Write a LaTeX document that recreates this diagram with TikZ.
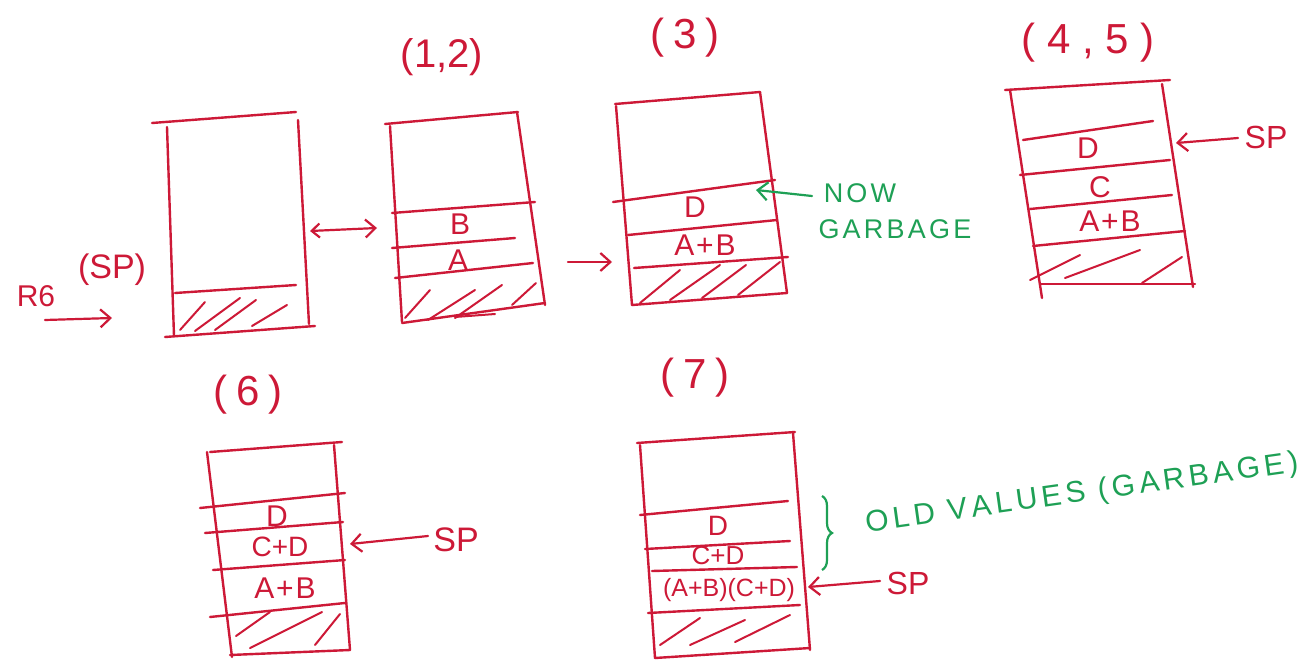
\documentclass[tikz,border=0pt]{standalone}
\usepackage{fontspec}
\setmainfont{Liberation Sans}
\usetikzlibrary{arrows.meta,decorations.pathreplacing}
\definecolor{pen}{RGB}{205,25,55}
\definecolor{gpen}{RGB}{30,160,85}
\tikzset{
  ink/.style={draw=pen,line width=2.4pt,line cap=round,line join=round},
  hatchln/.style={draw=pen,line width=2pt,line cap=round},
  cell/.style={text=pen,font=\fontsize{30}{32}\selectfont\addfontfeature{LetterSpace=6},inner sep=0pt},
  title/.style={text=pen,font=\fontsize{42}{46}\selectfont\addfontfeature{LetterSpace=20},inner sep=0pt},
  gtext/.style={text=gpen,font=\fontsize{27}{30}\selectfont\addfontfeature{LetterSpace=12},inner sep=0pt},
  arr/.style={draw=pen,line width=2.2pt,line cap=round,-{Straight Barb[length=10pt,width=18pt,line width=2.2pt]}},
  garr/.style={draw=gpen,line width=2.2pt,line cap=round,-{Straight Barb[length=10pt,width=18pt,line width=2.2pt]}}
}
\begin{document}
\begin{tikzpicture}[x=1pt,y=-1pt]
\useasboundingbox (0,0) rectangle (1306,661);
\fill[white] (0,0) rectangle (1306,661);

% ---------- stack 0 ----------
\draw[ink] (152,123) -- (296,112);
\draw[ink] (167,127) -- (174,336);
\draw[ink] (298,120) -- (309,324);
\draw[ink] (165,337) -- (315,326);
\draw[ink] (175,293) -- (296,285);
\draw[hatchln] (180,330) -- (205,302) (195,331) -- (240,298) (215,330) -- (256,300) (252,326) -- (287,305);
\node[cell,font=\fontsize{30}{32}\selectfont] (r6) at (36,296) {R6};
\node[cell,font=\fontsize{34}{36}\selectfont] (r6sp) at (112,270) {(SP)};
\coordinate (r6a) at (45,320);
\coordinate (r6b) at (112,318);
\draw[arr] (r6a) -- (r6b);
\coordinate (s0out) at (310,231);
\coordinate (s1in) at (377,228);
\draw[arr,{Straight Barb[length=8pt,width=14pt,line width=2.2pt]}-{Straight Barb[length=10pt,width=18pt,line width=2.2pt]}] (s0out) -- (s1in);

% ---------- stack 1 (1,2) ----------
\node[title,font=\fontsize{40}{44}\selectfont] (t12) at (442,57) {(1,2)};
\draw[ink] (385,124) -- (518,112);
\draw[ink] (390,126) -- (402,322);
\draw[ink] (517,112) -- (545,305);
\draw[ink] (402,323) -- (545,303);
\draw[ink] (392,213) -- (535,202);
\draw[ink] (392,248) -- (515,238);
\draw[ink] (395,278) -- (533,263);
\draw[hatchln] (405,318) -- (430,290) (428,320) -- (475,290) (455,318) -- (502,285) (512,305) -- (536,283) (455,317) -- (495,314);
\node[cell] (B1) at (460,224) {B};
\node[cell] (A1) at (458,260) {A};
\coordinate (s1out) at (568,262);
\coordinate (s2in) at (612,262);
\draw[arr] (s1out) -- (s2in);

% ---------- stack 2 (3) ----------
\node[title] (t3) at (685,38) {(3)};
\draw[ink] (615,104) -- (760,92);
\draw[ink] (616,106) -- (632,305);
\draw[ink] (760,92) -- (787,293);
\draw[ink] (632,305) -- (787,293);
\draw[ink] (613,202) -- (775,180);
\draw[ink] (628,235) -- (777,220);
\draw[ink] (634,268) -- (788,257);
\draw[hatchln] (640,303) -- (680,270) (670,300) -- (720,265) (702,298) -- (746,265) (738,295) -- (780,262);
\node[cell] (D2) at (695,207) {D};
\node[cell] (AB2) at (705,245) {A+B};
\node[gtext] (now) at (860,193) {NOW};
\node[gtext] (garb) at (895,229) {GARBAGE};
\coordinate (g1) at (812,196);
\coordinate (g2) at (756,190);
\draw[garr] (g1) -- (g2);

% ---------- stack 3 (4,5) ----------
\node[title,font=\fontsize{42}{46}\selectfont\addfontfeature{LetterSpace=28}] (t45) at (1088,43) {(4,5)};
\draw[ink] (1005,90) -- (1170,80);
\draw[ink] (1010,90) -- (1042,298);
\draw[ink] (1162,84) -- (1193,287);
\draw[ink] (1040,284) -- (1195,284);
\draw[ink] (1023,140) -- (1153,121);
\draw[ink] (1020,175) -- (1170,160);
\draw[ink] (1030,209) -- (1172,195);
\draw[ink] (1033,246) -- (1185,231);
\draw[hatchln] (1030,280) -- (1080,255) (1065,278) -- (1140,250) (1142,283) -- (1182,257);
\node[cell] (D3) at (1088,148) {D};
\node[cell] (C3) at (1100,187) {C};
\node[cell] (AB3) at (1110,221) {A+B};
\node[cell,font=\fontsize{32}{34}\selectfont] (sp3) at (1266,137) {SP};
\coordinate (sp3a) at (1238,138);
\coordinate (sp3b) at (1176,143);
\draw[arr] (sp3a) -- (sp3b);

% ---------- stack 4 (6) ----------
\node[title] (t6) at (248,395) {(6)};
\draw[ink] (210,452) -- (342,442);
\draw[ink] (207,452) -- (232,657);
\draw[ink] (334,445) -- (350,650);
\draw[ink] (230,655) -- (350,650);
\draw[ink] (200,508) -- (345,493);
\draw[ink] (205,533) -- (343,522);
\draw[ink] (213,570) -- (345,560);
\draw[ink] (210,617) -- (345,603);
\draw[hatchln] (236,636) -- (270,612) (250,648) -- (322,612) (315,645) -- (340,614);
\node[cell] (D4) at (277,516) {D};
\node[cell,font=\fontsize{28}{30}\selectfont] (CD4) at (280,547) {C+D};
\node[cell] (AB4) at (285,588) {A+B};
\node[cell,font=\fontsize{34}{36}\selectfont] (sp4) at (456,540) {SP};
\coordinate (sp4a) at (428,536);
\coordinate (sp4b) at (350,544);
\draw[arr] (sp4a) -- (sp4b);

% ---------- stack 5 (7) ----------
\node[title] (t7) at (695,378) {(7)};
\draw[ink] (637,443) -- (795,432);
\draw[ink] (640,445) -- (655,658);
\draw[ink] (793,433) -- (810,650);
\draw[ink] (655,658) -- (810,648);
\draw[ink] (640,515) -- (788,501);
\draw[ink] (645,549) -- (790,541);
\draw[ink] (652,571) -- (797,567);
\draw[ink] (648,613) -- (800,605);
\draw[hatchln] (660,645) -- (700,618) (690,645) -- (745,620) (735,642) -- (790,615);
\node[cell,font=\fontsize{28}{30}\selectfont] (D5) at (718,526) {D};
\node[cell,font=\fontsize{26}{28}\selectfont] (CD5) at (718,556) {C+D};
\node[cell,font=\fontsize{25}{27}\selectfont] (ABCD5) at (729,590) {(A+B)(C+D)};
\coordinate (br1) at (822,496);
\coordinate (br2) at (822,570);
\draw[draw=gpen,line width=2.2pt,decorate,decoration={brace,amplitude=10pt}] (br1) -- (br2);
\node[gtext,font=\fontsize{30}{32}\selectfont\addfontfeature{LetterSpace=14,Kerning=Off},rotate=8] (old) at (1082,494) {OLD VALUES (GARBAGE)};
\node[cell,font=\fontsize{32}{34}\selectfont] (sp5) at (908,583) {SP};
\coordinate (sp5a) at (880,581);
\coordinate (sp5b) at (808,587);
\draw[arr] (sp5a) -- (sp5b);
\end{tikzpicture}
\end{document}
